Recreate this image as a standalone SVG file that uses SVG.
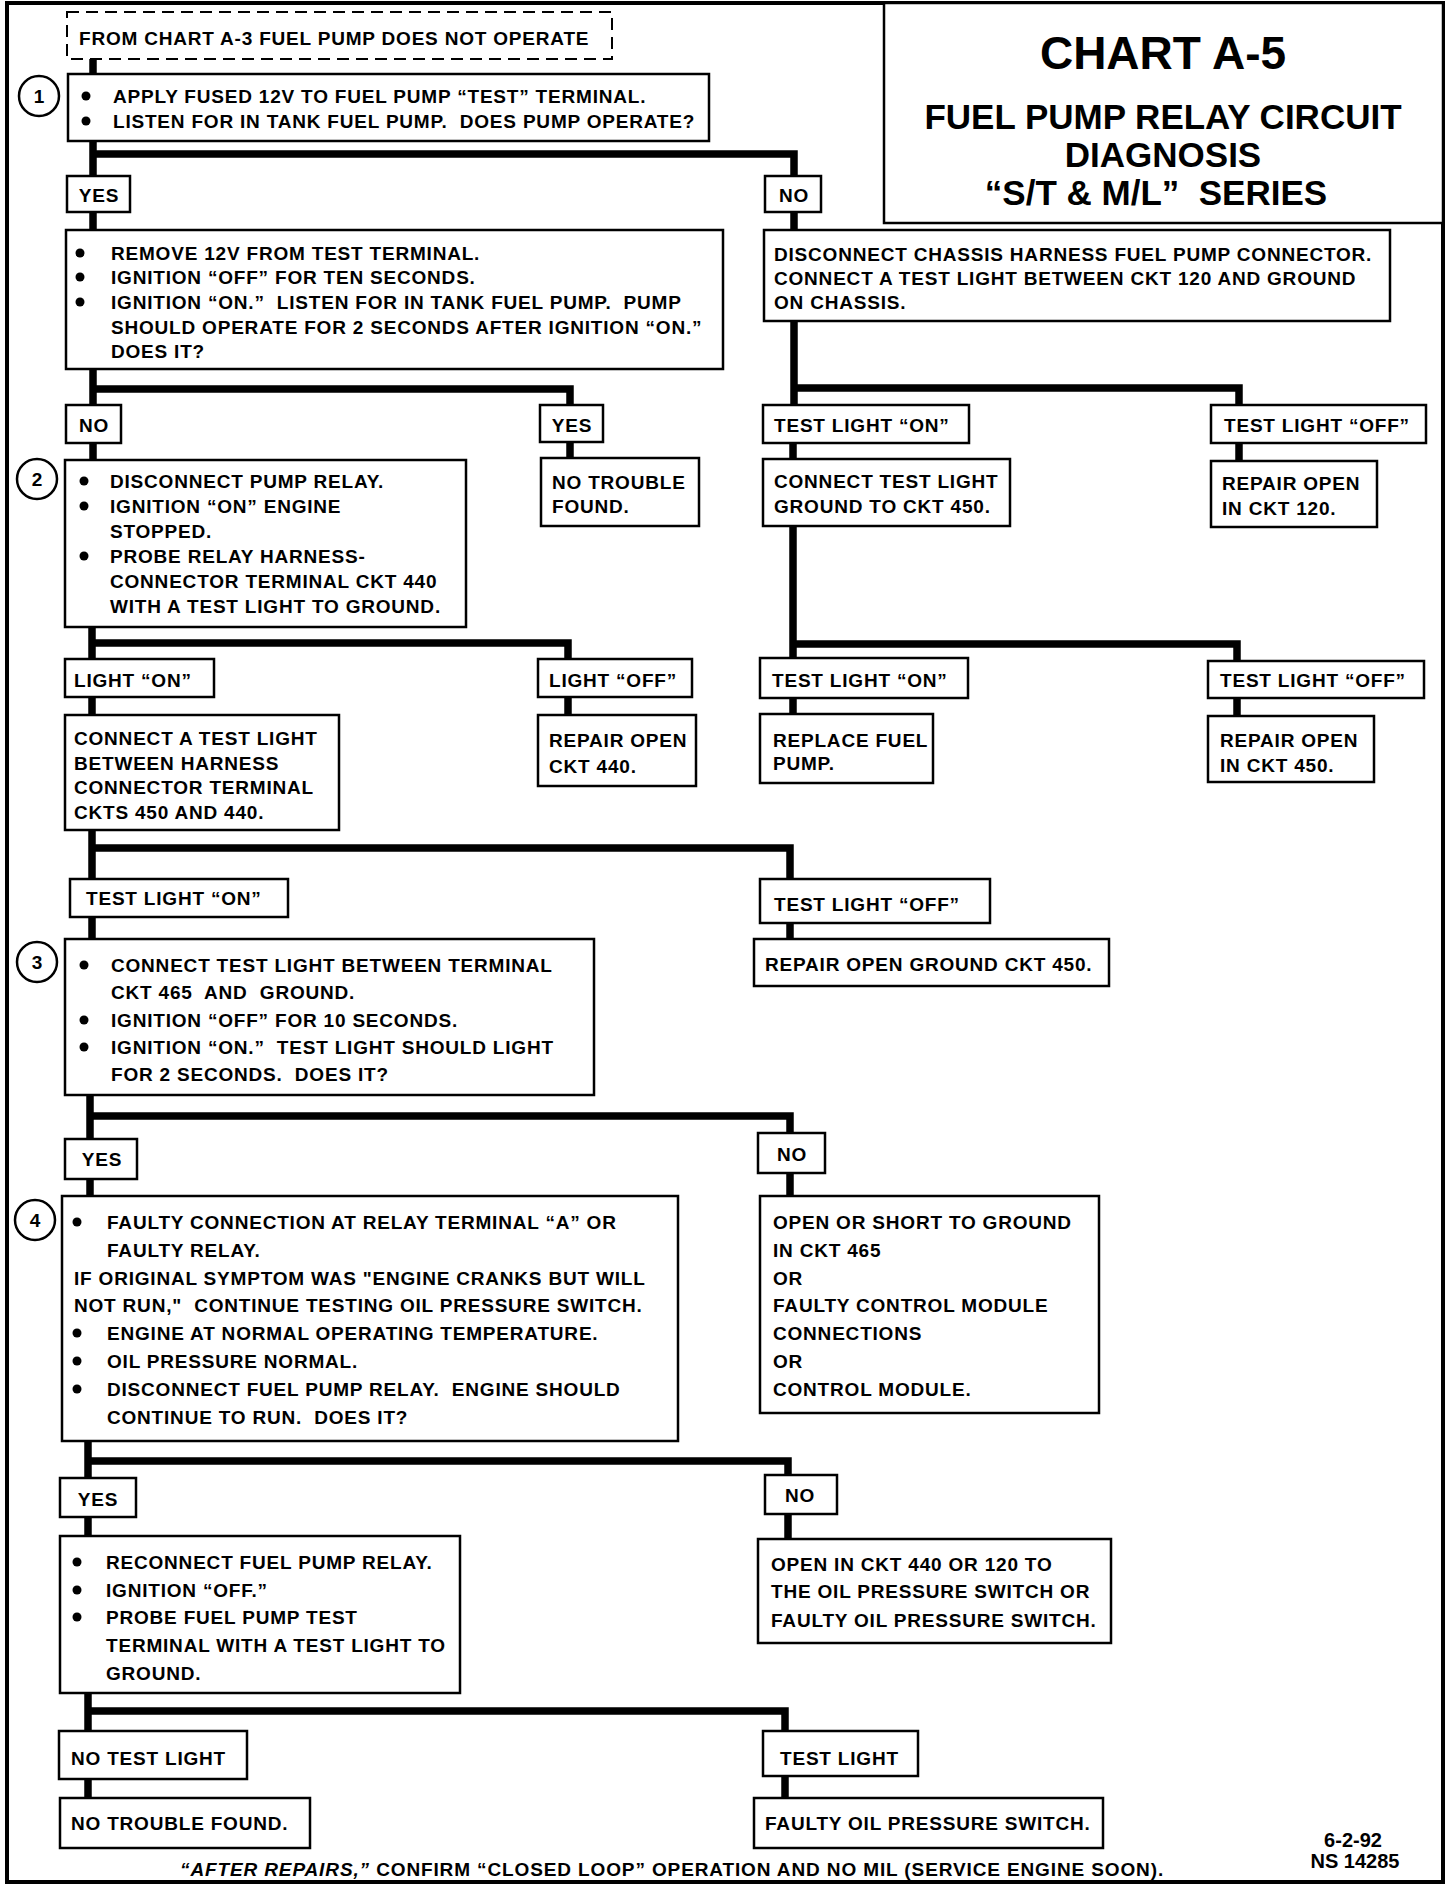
<svg xmlns="http://www.w3.org/2000/svg" width="1456" height="1888" viewBox="0 0 1456 1888">
<style>
text { font-family: "Liberation Sans", Arial, sans-serif; font-weight: bold; fill: #000; white-space: pre; }
.t { font-size: 19px; letter-spacing: 0.8px; }
.c { text-anchor: middle; }
.box { fill: #fff; stroke: #000; stroke-width: 2.5; }
.dash { fill: #fff; stroke: #000; stroke-width: 2; stroke-dasharray: 12 7; }
.conn { fill: none; stroke: #000; stroke-width: 7.5; stroke-linejoin: miter; stroke-linecap: butt; }
.num { fill: #fff; stroke: #000; stroke-width: 2.5; }
.numt { font-size: 19px; text-anchor: middle; }
.bul { fill: #000; }
.ttl { text-anchor: middle; }
</style>
<rect width="1456" height="1888" fill="#fff"/>
<rect id="frame" x="7" y="3" width="1436" height="1879" fill="none" stroke="#000" stroke-width="4"/>

<g id="title">
  <rect x="884" y="3" width="559" height="220" fill="#fff" stroke="#000" stroke-width="2.5"/>
  <text class="ttl" x="1163" y="69" font-size="46">CHART A-5</text>
  <text class="ttl" x="1163" y="129" font-size="35">FUEL PUMP RELAY CIRCUIT</text>
  <text class="ttl" x="1163" y="167" font-size="35">DIAGNOSIS</text>
  <text class="ttl" x="1156" y="205" font-size="35">“S/T &amp; M/L”  SERIES</text>
</g>

<g id="connectors">
  <path class="conn" d="M93,59 V75"/>
  <path class="conn" d="M93,141 V176 M93,154 H794 V176"/>
  <path class="conn" d="M93,212 V230 M794,212 V230"/>
  <path class="conn" d="M93,369 V405 M93,389 H570 V405"/>
  <path class="conn" d="M794,321 V405 M794,388 H1239 V405"/>
  <path class="conn" d="M93,443 V460 M570,442 V459"/>
  <path class="conn" d="M793,443 V459 M1239,443 V461"/>
  <path class="conn" d="M92,627 V659 M92,643 H568 V659"/>
  <path class="conn" d="M793,526 V659 M793,644 H1237 V661"/>
  <path class="conn" d="M92,697 V715 M568,697 V715"/>
  <path class="conn" d="M793,698 V714 M1237,698 V716"/>
  <path class="conn" d="M92,830 V879 M92,848 H790 V879"/>
  <path class="conn" d="M92,917 V939 M790,923 V939"/>
  <path class="conn" d="M90,1095 V1139 M90,1116 H790 V1133"/>
  <path class="conn" d="M90,1179 V1196 M790,1173 V1196"/>
  <path class="conn" d="M88,1441 V1478 M88,1461 H788 V1475"/>
  <path class="conn" d="M88,1517 V1536 M788,1514 V1539"/>
  <path class="conn" d="M88,1693 V1731 M88,1711 H785 V1731"/>
  <path class="conn" d="M88,1779 V1798 M785,1776 V1798"/>
</g>

<g id="start">
  <rect class="dash" x="67" y="12" width="545" height="47"/>
  <text class="t" x="79" y="45">FROM CHART A-3 FUEL PUMP DOES NOT OPERATE</text>
</g>

<g id="step1">
  <rect class="box" x="68" y="74" width="641" height="67"/>
  <circle class="num" cx="39" cy="96" r="20"/>
  <text class="numt" x="39" y="103">1</text>
  <circle class="bul" cx="86" cy="96" r="4.5"/>
  <text class="t" x="113" y="103">APPLY FUSED 12V TO FUEL PUMP “TEST” TERMINAL.</text>
  <circle class="bul" cx="86" cy="121" r="4.5"/>
  <text class="t" x="113" y="128">LISTEN FOR IN TANK FUEL PUMP.  DOES PUMP OPERATE?</text>
</g>

<g id="yes1"><rect class="box" x="67" y="176" width="63" height="36"/><text class="t c" x="99" y="202">YES</text></g>
<g id="no1"><rect class="box" x="765" y="176" width="56" height="36"/><text class="t c" x="794" y="202">NO</text></g>

<g id="check-prime">
  <rect class="box" x="66" y="230" width="657" height="139"/>
  <circle class="bul" cx="80" cy="253" r="4.5"/>
  <text class="t" x="111" y="260">REMOVE 12V FROM TEST TERMINAL.</text>
  <circle class="bul" cx="80" cy="277" r="4.5"/>
  <text class="t" x="111" y="284">IGNITION “OFF” FOR TEN SECONDS.</text>
  <circle class="bul" cx="80" cy="302" r="4.5"/>
  <text class="t" x="111" y="309">IGNITION “ON.”  LISTEN FOR IN TANK FUEL PUMP.  PUMP</text>
  <text class="t" x="111" y="334">SHOULD OPERATE FOR 2 SECONDS AFTER IGNITION “ON.”</text>
  <text class="t" x="111" y="358">DOES IT?</text>
</g>

<g id="disconnect-chassis">
  <rect class="box" x="764" y="230" width="626" height="91"/>
  <text class="t" x="774" y="261">DISCONNECT CHASSIS HARNESS FUEL PUMP CONNECTOR.</text>
  <text class="t" x="774" y="285">CONNECT A TEST LIGHT BETWEEN CKT 120 AND GROUND</text>
  <text class="t" x="774" y="309">ON CHASSIS.</text>
</g>

<g id="no2"><rect class="box" x="66" y="405" width="55" height="38"/><text class="t c" x="94" y="432">NO</text></g>
<g id="yes2"><rect class="box" x="540" y="405" width="63" height="37"/><text class="t c" x="572" y="432">YES</text></g>
<g id="tl-on1"><rect class="box" x="763" y="405" width="206" height="38"/><text class="t" x="774" y="432">TEST LIGHT “ON”</text></g>
<g id="tl-off1"><rect class="box" x="1211" y="405" width="215" height="38"/><text class="t" x="1224" y="432">TEST LIGHT “OFF”</text></g>

<g id="step2">
  <rect class="box" x="65" y="460" width="401" height="167"/>
  <circle class="num" cx="37" cy="479" r="20"/>
  <text class="numt" x="37" y="486">2</text>
  <circle class="bul" cx="84" cy="481" r="4.5"/>
  <text class="t" x="110" y="488">DISCONNECT PUMP RELAY.</text>
  <circle class="bul" cx="84" cy="506" r="4.5"/>
  <text class="t" x="110" y="513">IGNITION “ON” ENGINE</text>
  <text class="t" x="110" y="538">STOPPED.</text>
  <circle class="bul" cx="84" cy="556" r="4.5"/>
  <text class="t" x="110" y="563">PROBE RELAY HARNESS-</text>
  <text class="t" x="110" y="588">CONNECTOR TERMINAL CKT 440</text>
  <text class="t" x="110" y="613">WITH A TEST LIGHT TO GROUND.</text>
</g>

<g id="ntf1">
  <rect class="box" x="541" y="458" width="158" height="68"/>
  <text class="t" x="552" y="489">NO TROUBLE</text>
  <text class="t" x="552" y="513">FOUND.</text>
</g>

<g id="connect-ground">
  <rect class="box" x="763" y="459" width="247" height="67"/>
  <text class="t" x="774" y="488">CONNECT TEST LIGHT</text>
  <text class="t" x="774" y="513">GROUND TO CKT 450.</text>
</g>

<g id="repair120">
  <rect class="box" x="1211" y="461" width="166" height="66"/>
  <text class="t" x="1222" y="490">REPAIR OPEN</text>
  <text class="t" x="1222" y="515">IN CKT 120.</text>
</g>

<g id="light-on"><rect class="box" x="65" y="659" width="149" height="38"/><text class="t" x="74" y="687">LIGHT “ON”</text></g>
<g id="light-off"><rect class="box" x="538" y="659" width="154" height="38"/><text class="t" x="549" y="687">LIGHT “OFF”</text></g>
<g id="tl-on2"><rect class="box" x="760" y="658" width="208" height="40"/><text class="t" x="772" y="687">TEST LIGHT “ON”</text></g>
<g id="tl-off2"><rect class="box" x="1208" y="661" width="216" height="37"/><text class="t" x="1220" y="687">TEST LIGHT “OFF”</text></g>

<g id="connect-harness">
  <rect class="box" x="65" y="715" width="274" height="115"/>
  <text class="t" x="74" y="745">CONNECT A TEST LIGHT</text>
  <text class="t" x="74" y="770">BETWEEN HARNESS</text>
  <text class="t" x="74" y="794">CONNECTOR TERMINAL</text>
  <text class="t" x="74" y="819">CKTS 450 AND 440.</text>
</g>

<g id="repair440">
  <rect class="box" x="538" y="715" width="158" height="71"/>
  <text class="t" x="549" y="747">REPAIR OPEN</text>
  <text class="t" x="549" y="773">CKT 440.</text>
</g>

<g id="replace-pump">
  <rect class="box" x="760" y="714" width="173" height="69"/>
  <text class="t" x="773" y="747">REPLACE FUEL</text>
  <text class="t" x="773" y="770">PUMP.</text>
</g>

<g id="repair450">
  <rect class="box" x="1208" y="716" width="166" height="66"/>
  <text class="t" x="1220" y="747">REPAIR OPEN</text>
  <text class="t" x="1220" y="772">IN CKT 450.</text>
</g>

<g id="tl-on3"><rect class="box" x="70" y="879" width="218" height="38"/><text class="t" x="86" y="905">TEST LIGHT “ON”</text></g>
<g id="tl-off3"><rect class="box" x="760" y="879" width="230" height="44"/><text class="t" x="774" y="911">TEST LIGHT “OFF”</text></g>

<g id="step3">
  <rect class="box" x="65" y="939" width="529" height="156"/>
  <circle class="num" cx="37" cy="962" r="20"/>
  <text class="numt" x="37" y="969">3</text>
  <circle class="bul" cx="84" cy="965" r="4.5"/>
  <text class="t" x="111" y="972">CONNECT TEST LIGHT BETWEEN TERMINAL</text>
  <text class="t" x="111" y="999">CKT 465  AND  GROUND.</text>
  <circle class="bul" cx="84" cy="1020" r="4.5"/>
  <text class="t" x="111" y="1027">IGNITION “OFF” FOR 10 SECONDS.</text>
  <circle class="bul" cx="84" cy="1047" r="4.5"/>
  <text class="t" x="111" y="1054">IGNITION “ON.”  TEST LIGHT SHOULD LIGHT</text>
  <text class="t" x="111" y="1081">FOR 2 SECONDS.  DOES IT?</text>
</g>

<g id="repair-ground450">
  <rect class="box" x="754" y="939" width="355" height="47"/>
  <text class="t" x="765" y="971">REPAIR OPEN GROUND CKT 450.</text>
</g>

<g id="yes3"><rect class="box" x="65" y="1139" width="72" height="40"/><text class="t c" x="102" y="1166">YES</text></g>
<g id="no3"><rect class="box" x="758" y="1133" width="67" height="40"/><text class="t c" x="792" y="1161">NO</text></g>

<g id="step4">
  <rect class="box" x="62" y="1196" width="616" height="245"/>
  <circle class="num" cx="35" cy="1220" r="20"/>
  <text class="numt" x="35" y="1227">4</text>
  <circle class="bul" cx="77" cy="1222" r="4.5"/>
  <text class="t" x="107" y="1229">FAULTY CONNECTION AT RELAY TERMINAL “A” OR</text>
  <text class="t" x="107" y="1257">FAULTY RELAY.</text>
  <text class="t" x="74" y="1285">IF ORIGINAL SYMPTOM WAS "ENGINE CRANKS BUT WILL</text>
  <text class="t" x="74" y="1312">NOT RUN,"  CONTINUE TESTING OIL PRESSURE SWITCH.</text>
  <circle class="bul" cx="77" cy="1333" r="4.5"/>
  <text class="t" x="107" y="1340">ENGINE AT NORMAL OPERATING TEMPERATURE.</text>
  <circle class="bul" cx="77" cy="1361" r="4.5"/>
  <text class="t" x="107" y="1368">OIL PRESSURE NORMAL.</text>
  <circle class="bul" cx="77" cy="1389" r="4.5"/>
  <text class="t" x="107" y="1396">DISCONNECT FUEL PUMP RELAY.  ENGINE SHOULD</text>
  <text class="t" x="107" y="1424">CONTINUE TO RUN.  DOES IT?</text>
</g>

<g id="open-short465">
  <rect class="box" x="760" y="1196" width="339" height="217"/>
  <text class="t" x="773" y="1229">OPEN OR SHORT TO GROUND</text>
  <text class="t" x="773" y="1257">IN CKT 465</text>
  <text class="t" x="773" y="1285">OR</text>
  <text class="t" x="773" y="1312">FAULTY CONTROL MODULE</text>
  <text class="t" x="773" y="1340">CONNECTIONS</text>
  <text class="t" x="773" y="1368">OR</text>
  <text class="t" x="773" y="1396">CONTROL MODULE.</text>
</g>

<g id="yes4"><rect class="box" x="60" y="1478" width="76" height="39"/><text class="t c" x="98" y="1506">YES</text></g>
<g id="no4"><rect class="box" x="765" y="1475" width="72" height="39"/><text class="t c" x="800" y="1502">NO</text></g>

<g id="step5">
  <rect class="box" x="60" y="1536" width="400" height="157"/>
  <circle class="bul" cx="77" cy="1562" r="4.5"/>
  <text class="t" x="106" y="1569">RECONNECT FUEL PUMP RELAY.</text>
  <circle class="bul" cx="77" cy="1590" r="4.5"/>
  <text class="t" x="106" y="1597">IGNITION “OFF.”</text>
  <circle class="bul" cx="77" cy="1617" r="4.5"/>
  <text class="t" x="106" y="1624">PROBE FUEL PUMP TEST</text>
  <text class="t" x="106" y="1652">TERMINAL WITH A TEST LIGHT TO</text>
  <text class="t" x="106" y="1680">GROUND.</text>
</g>

<g id="open440-120">
  <rect class="box" x="758" y="1539" width="353" height="104"/>
  <text class="t" x="771" y="1571">OPEN IN CKT 440 OR 120 TO</text>
  <text class="t" x="771" y="1598">THE OIL PRESSURE SWITCH OR</text>
  <text class="t" x="771" y="1627">FAULTY OIL PRESSURE SWITCH.</text>
</g>

<g id="no-test-light"><rect class="box" x="59" y="1731" width="188" height="48"/><text class="t" x="71" y="1765">NO TEST LIGHT</text></g>
<g id="test-light"><rect class="box" x="763" y="1731" width="155" height="45"/><text class="t" x="780" y="1765">TEST LIGHT</text></g>

<g id="ntf2">
  <rect class="box" x="60" y="1798" width="250" height="50"/>
  <text class="t" x="71" y="1830">NO TROUBLE FOUND.</text>
</g>

<g id="faulty-switch">
  <rect class="box" x="754" y="1798" width="349" height="50"/>
  <text class="t" x="765" y="1830">FAULTY OIL PRESSURE SWITCH.</text>
</g>

<g id="footer">
  <text class="t" x="180" y="1876" textLength="984" lengthAdjust="spacing"><tspan font-style="italic">“AFTER REPAIRS,”</tspan> CONFIRM “CLOSED LOOP” OPERATION AND NO MIL (SERVICE ENGINE SOON).</text>
  <text class="c" x="1353" y="1847" font-size="20">6-2-92</text>
  <text class="c" x="1355" y="1868" font-size="20">NS 14285</text>
</g>
</svg>
